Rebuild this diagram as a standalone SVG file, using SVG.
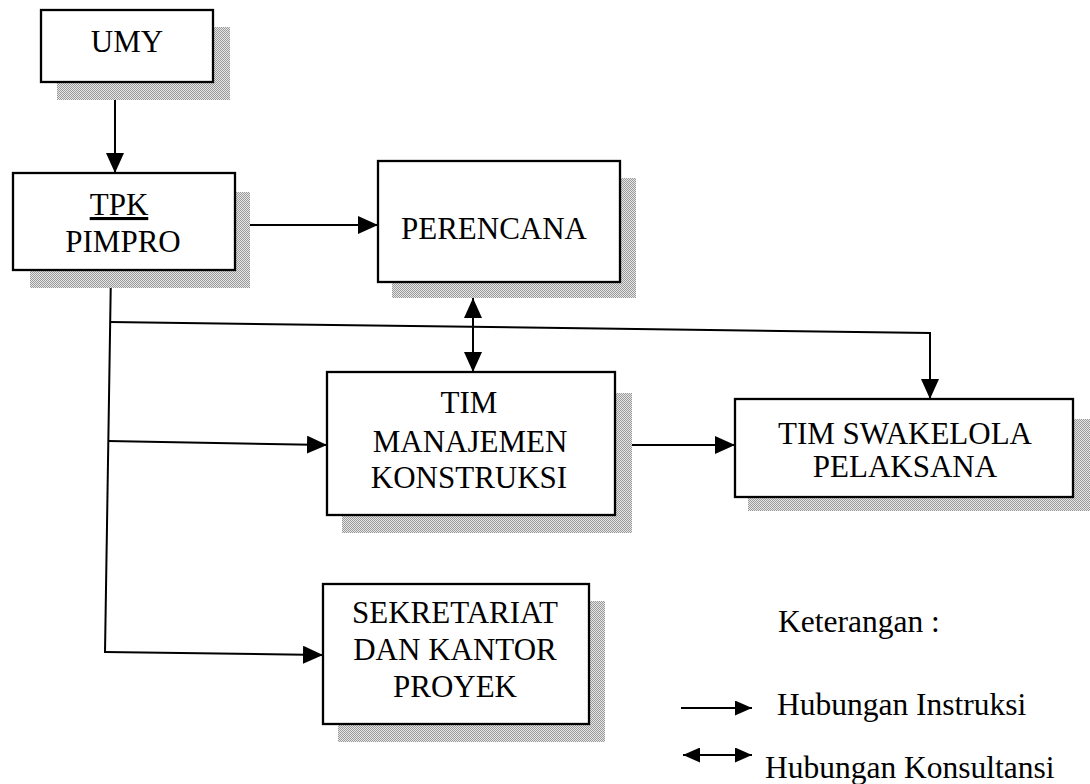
<svg xmlns="http://www.w3.org/2000/svg" width="1090" height="784" viewBox="0 0 1090 784">
<style>
.box{fill:#fff;stroke:#000;stroke-width:2.3}
.shadow{fill:url(#dots)}
.lbl{font-family:"Liberation Serif","Times New Roman",serif;font-size:31px;fill:#000;text-anchor:middle}
.leg{font-family:"Liberation Serif","Times New Roman",serif;font-size:31.5px;fill:#000}
.ln{fill:none;stroke:#000;stroke-width:2}
</style>
<defs>
<pattern id="dots" patternUnits="userSpaceOnUse" width="2" height="2">
<rect width="2" height="2" fill="#e6e6e6"/>
<rect width="1" height="1" fill="#9a9a9a"/>
<rect x="1" y="1" width="1" height="1" fill="#9a9a9a"/>
</pattern>
<marker id="ah" markerUnits="userSpaceOnUse" markerWidth="20" markerHeight="18" refX="20" refY="9" orient="auto-start-reverse" viewBox="0 0 20 18">
<path d="M0,0 L20,9 L0,18 Z" fill="#000"/>
</marker>
<marker id="ahs" markerUnits="userSpaceOnUse" markerWidth="17" markerHeight="15" refX="17" refY="7.5" orient="auto-start-reverse" viewBox="0 0 17 15">
<path d="M0,0 L17,7.5 L0,15 Z" fill="#000"/>
</marker>
</defs>
<rect width="1090" height="784" fill="#fff"/>

<g id="connectors">
<path class="ln" d="M115,82 L115,173" marker-end="url(#ah)"/>
<path class="ln" d="M235,225 L378,225" marker-end="url(#ah)"/>
<path class="ln" d="M111,270 L105,653"/>
<path class="ln" d="M110,322 L930,333 L930,399" marker-end="url(#ah)"/>
<path class="ln" d="M108,441 L327,445" marker-end="url(#ah)"/>
<path class="ln" d="M105,652 L323,655" marker-end="url(#ah)"/>
<path class="ln" d="M615,445 L735,445" marker-end="url(#ah)"/>
<path class="ln" d="M473,298 L473,372" marker-start="url(#ah)" marker-end="url(#ah)"/>
</g>

<g id="umy">
<rect class="shadow" x="57" y="27" width="173" height="73"/>
<rect class="box" x="41" y="10" width="172" height="72"/>
<text class="lbl" x="127" y="52">UMY</text>
</g>

<g id="tpk">
<rect class="shadow" x="30" y="192" width="220" height="96"/>
<rect class="box" x="13" y="173" width="222" height="97"/>
<text class="lbl" x="119" y="215" text-decoration="underline">TPK</text>
<text class="lbl" x="123" y="252">PIMPRO</text>
</g>

<g id="perencana">
<rect class="shadow" x="392" y="178" width="244" height="120"/>
<rect class="box" x="378" y="161" width="242" height="121"/>
<text class="lbl" x="494" y="239">PERENCANA</text>
</g>

<g id="tim-mk">
<rect class="shadow" x="342" y="393" width="290" height="140"/>
<rect class="box" x="327" y="372" width="288" height="143"/>
<text class="lbl" x="469" y="413">TIM</text>
<text class="lbl" x="470" y="452">MANAJEMEN</text>
<text class="lbl" x="469" y="488">KONSTRUKSI</text>
</g>

<g id="tim-swakelola">
<rect class="shadow" x="748" y="419" width="342" height="92"/>
<rect class="box" x="735" y="399" width="338" height="98"/>
<text class="lbl" x="905" y="444">TIM SWAKELOLA</text>
<text class="lbl" x="905" y="477">PELAKSANA</text>
</g>

<g id="sekretariat">
<rect class="shadow" x="338" y="601" width="267" height="141"/>
<rect class="box" x="323" y="584" width="266" height="140"/>
<text class="lbl" x="455" y="623">SEKRETARIAT</text>
<text class="lbl" x="455" y="660">DAN KANTOR</text>
<text class="lbl" x="455" y="697">PROYEK</text>
</g>

<g id="legend">
<text class="leg" x="778" y="632">Keterangan :</text>
<path class="ln" d="M681,708 L752,708" marker-end="url(#ahs)"/>
<text class="leg" x="777" y="715">Hubungan Instruksi</text>
<path class="ln" d="M683,755 L752,755" marker-start="url(#ahs)" marker-end="url(#ahs)"/>
<text class="leg" x="765" y="778">Hubungan Konsultansi</text>
</g>
</svg>
